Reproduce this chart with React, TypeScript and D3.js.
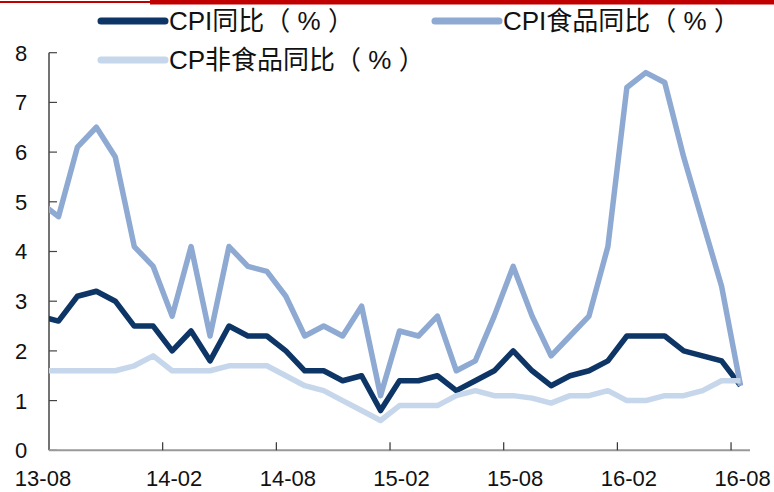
import React from "react"
import { scaleLinear, scalePoint, line } from "d3"

const width = 774
const height = 492

// months 13-07 .. 16-08 (13-07 sits left of the y axis and gets clipped)
const months = [
  "13-07", "13-08", "13-09", "13-10", "13-11", "13-12",
  "14-01", "14-02", "14-03", "14-04", "14-05", "14-06",
  "14-07", "14-08", "14-09", "14-10", "14-11", "14-12",
  "15-01", "15-02", "15-03", "15-04", "15-05", "15-06",
  "15-07", "15-08", "15-09", "15-10", "15-11", "15-12",
  "16-01", "16-02", "16-03", "16-04", "16-05", "16-06",
  "16-07", "16-08",
]

const cpi = [
  2.7, 2.6, 3.1, 3.2, 3.0, 2.5,
  2.5, 2.0, 2.4, 1.8, 2.5, 2.3,
  2.3, 2.0, 1.6, 1.6, 1.4, 1.5,
  0.8, 1.4, 1.4, 1.5, 1.2, 1.4,
  1.6, 2.0, 1.6, 1.3, 1.5, 1.6,
  1.8, 2.3, 2.3, 2.3, 2.0, 1.9,
  1.8, 1.3,
]

const food = [
  5.0, 4.7, 6.1, 6.5, 5.9, 4.1,
  3.7, 2.7, 4.1, 2.3, 4.1, 3.7,
  3.6, 3.1, 2.3, 2.5, 2.3, 2.9,
  1.1, 2.4, 2.3, 2.7, 1.6, 1.8,
  2.7, 3.7, 2.7, 1.9, 2.3, 2.7,
  4.1, 7.3, 7.6, 7.4, 5.9, 4.6,
  3.3, 1.3,
]

const nonFood = [
  1.6, 1.6, 1.6, 1.6, 1.6, 1.7,
  1.9, 1.6, 1.6, 1.6, 1.7, 1.7,
  1.7, 1.5, 1.3, 1.2, 1.0, 0.8,
  0.6, 0.9, 0.9, 0.9, 1.1, 1.2,
  1.1, 1.1, 1.05, 0.95, 1.1, 1.1,
  1.2, 1.0, 1.0, 1.1, 1.1, 1.2,
  1.4, 1.4,
]

const labelMonths = ["13-08", "14-02", "14-08", "15-02", "15-08", "16-02", "16-08"]
const yTicks = [0, 1, 2, 3, 4, 5, 6, 7, 8]

const series = [
  { name: "CPI同比（ % ）", values: cpi, color: "#0d3566" },
  { name: "CPI食品同比（ % ）", values: food, color: "#8eaad2" },
  { name: "CP非食品同比（ % ）", values: nonFood, color: "#c6d6eb" },
]

const axisLeft = 49
const axisRight = 750
const step = (axisRight - axisLeft) / 37

const font = "'Liberation Sans', Arial, 'Noto Sans CJK SC', sans-serif"

function App() {
  const xScale = scalePoint()
    .domain(months)
    .range([axisLeft - step / 2, axisRight - step / 2])

  const yScale = scaleLinear().domain([0, 8]).range([450.3, 52.7])

  const pathGen = line<number>()
    .x((d, i) => xScale(months[i]))
    .y(d => yScale(d))

  const legendPos = [
    { x: 98, y: 21 },
    { x: 432, y: 21 },
    { x: 98, y: 60 },
  ]

  return (
    <svg width={width} height={height} style={{ position: "absolute", left: 0, top: 0 }} fontFamily={font}>
      <defs>
        <clipPath id="plot">
          <rect x={axisLeft} y={0} width={width - axisLeft} height={height} />
        </clipPath>
      </defs>
      <rect width={width} height={height} fill="#fff" />

      {/* red rule at top */}
      <rect x={0} y={1} width={152} height={2} fill="#c00000" />
      <rect x={150} y={0} width={width - 150} height={4.5} fill="#c00000" />

      {/* legend */}
      {series.map((s, i) => (
        <g key={s.name}>
          <line
            x1={legendPos[i].x + 3} x2={legendPos[i].x + 67}
            y1={legendPos[i].y} y2={legendPos[i].y}
            stroke={s.color} strokeWidth={7} strokeLinecap="round"
          />
          <text x={legendPos[i].x + 71} y={legendPos[i].y} dy="0.36em" fontSize={26} fill="#111">
            {s.name}
          </text>
        </g>
      ))}

      {/* y axis */}
      <line x1={axisLeft} x2={axisLeft} y1={yScale(8)} y2={yScale(0)} stroke="#444" strokeWidth={1.5} />
      {yTicks.map(t => (
        <g key={t} transform={`translate(0, ${yScale(t)})`}>
          <line x1={axisLeft} x2={axisLeft + 8} stroke="#444" strokeWidth={1.2} />
          <text x={21} dy="0.36em" textAnchor="middle" fontSize={22} fill="#111">{t}</text>
        </g>
      ))}

      {/* x axis */}
      <line x1={axisLeft} x2={axisRight} y1={yScale(0)} y2={yScale(0)} stroke="#999" strokeWidth={2} />
      {labelMonths.map((m, i) => {
        const cx = xScale(m)
        return (
          <g key={m}>
            {i > 0 && (
              <line x1={cx - step / 2} x2={cx - step / 2} y1={yScale(0)} y2={yScale(0) - 8} stroke="#333" strokeWidth={1.2} />
            )}
            <text x={i === 0 ? 43 : cx + 2} y={486} textAnchor="middle" fontSize={22} fill="#111">{m}</text>
          </g>
        )
      })}

      {/* lines */}
      <g clipPath="url(#plot)">
        {series.map(s => (
          <path
            key={s.name}
            d={pathGen(s.values) || ""}
            fill="none"
            stroke={s.color}
            strokeWidth={5.5}
            strokeLinejoin="round"
          />
        ))}
      </g>
    </svg>
  )
}

export default App
